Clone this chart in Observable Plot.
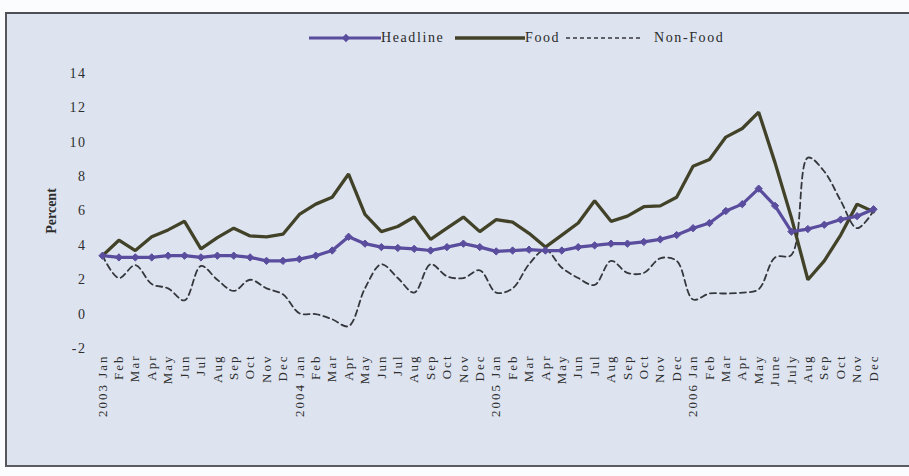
<!DOCTYPE html>
<html>
<head>
<meta charset="utf-8">
<script src="https://cdn.jsdelivr.net/npm/d3@7"></script>
<script src="https://cdn.jsdelivr.net/npm/@observablehq/plot@0.6"></script>
<style>
  html, body { margin: 0; padding: 0; background: #ffffff; }
  #page { position: relative; width: 909px; height: 476px; overflow: hidden; background: #fbfcfd; }
  #box {
    position: absolute; left: 5px; top: 12px; width: 904px; height: 455px;
    background: #dde4f0;
    border-top: 2px solid #4d4f55; border-left: 2px solid #55575c; border-bottom: 2px solid #5a5c62;
    box-sizing: border-box;
  }
  #legend {
    position: absolute; left: 0; top: 28px; width: 909px; height: 20px;
    font-family: "Liberation Serif", "DejaVu Serif", serif; font-size: 14px; color: #2a2a2a;
  }
  #legend .sample { position: absolute; top: 0; }
  #legend .name { position: absolute; top: 1px; letter-spacing: 1.6px; line-height: 18px; }
  #chart { position: absolute; left: 0; top: 50px; }
</style>
</head>
<body>
<div id="page">
  <div id="box"></div>
  <div id="legend"></div>
  <div id="chart"></div>
</div>
<script>
// Monthly year-on-year inflation, January 2003 to December 2006
const monthLabels = [
  "2003 Jan","Feb","Mar","Apr","May","Jun","Jul","Aug","Sep","Oct","Nov","Dec",
  "2004 Jan","Feb","Mar","Apr","May","Jun","Jul","Aug","Sep","Oct","Nov","Dec",
  "2005 Jan","Feb","Mar","Apr","May","Jun","Jul","Aug","Sep","Oct","Nov","Dec",
  "2006 Jan","Feb","Mar","Apr","May","June","July","Aug","Sep","Oct","Nov","Dec"
];

const headline = [
  3.4, 3.3, 3.3, 3.3, 3.4, 3.4, 3.3, 3.4, 3.4, 3.3, 3.1, 3.1,
  3.2, 3.4, 3.7, 4.5, 4.1, 3.9, 3.85, 3.8, 3.7, 3.9, 4.1, 3.9,
  3.65, 3.7, 3.75, 3.7, 3.7, 3.9, 4.0, 4.1, 4.1, 4.2, 4.35, 4.6,
  5.0, 5.3, 6.0, 6.4, 7.3, 6.3, 4.8, 4.95, 5.2, 5.5, 5.7, 6.1
];

const food = [
  3.4, 4.3, 3.7, 4.5, 4.9, 5.4, 3.8, 4.45, 5.0, 4.55, 4.5, 4.65,
  5.8, 6.4, 6.8, 8.15, 5.8, 4.8, 5.1, 5.65, 4.35, 5.0, 5.65, 4.8,
  5.5, 5.35, 4.7, 3.9, 4.6, 5.3, 6.6, 5.4, 5.7, 6.25, 6.3, 6.8,
  8.6, 9.0, 10.3, 10.8, 11.75, 8.8, 5.6, 2.0, 3.1, 4.6, 6.4, 5.95
];

const nonFood = [
  3.4, 2.1, 2.85, 1.75, 1.5, 0.8, 2.8, 2.0, 1.35, 2.0, 1.5, 1.15,
  0.05, 0.0, -0.3, -0.7, 1.5, 2.9, 2.1, 1.25, 2.9, 2.2, 2.1, 2.55,
  1.25, 1.5, 2.9, 3.75, 2.7, 2.1, 1.7, 3.1, 2.4, 2.4, 3.25, 3.1,
  0.85, 1.2, 1.2, 1.25, 1.45, 3.3, 3.45, 9.1, 8.3, 6.6, 5.0, 6.0
];

const yTicks = [-2, 0, 2, 4, 6, 8, 10, 12, 14];

const seriesStyle = {
  headline: { name: "Headline", color: "#5a4d9e" },
  food: { name: "Food", color: "#424228" },
  nonFood: { name: "Non-Food", color: "#36373c" }
};

const rows = (values) => values.map((v, i) => ({ i, v }));

const serif = "'Liberation Serif', 'DejaVu Serif', serif";

const chart = Plot.plot({
  width: 909,
  height: 426,
  marginLeft: 102,
  marginRight: 36,
  marginTop: 23,
  marginBottom: 128,
  style: { background: "transparent", fontFamily: serif, fontSize: "13px", color: "#2e2e2e" },
  x: { type: "linear", domain: [0, monthLabels.length - 1], axis: null },
  y: { domain: [-2, 14], axis: null },
  marks: [
    Plot.axisY({
      ticks: yTicks,
      tickSize: 0,
      tickPadding: 16,
      tickFormat: d => String(d),
      fontSize: 14,
      label: "Percent",
      labelAnchor: "center",
      labelArrow: "none",
      labelOffset: 56
    }),
    Plot.axisX({
      ticks: d3.range(monthLabels.length),
      tickFormat: i => monthLabels[i],
      tickSize: 0,
      tickPadding: 6,
      tickRotate: -90,
      fontSize: 13,
      label: null
    }),
    Plot.line(rows(nonFood), {
      x: "i", y: "v",
      stroke: seriesStyle.nonFood.color,
      strokeWidth: 1.8,
      strokeDasharray: "6,4",
      curve: "catmull-rom"
    }),
    Plot.line(rows(food), {
      x: "i", y: "v",
      stroke: seriesStyle.food.color,
      strokeWidth: 3.3,
      strokeLinejoin: "miter"
    }),
    Plot.line(rows(headline), {
      x: "i", y: "v",
      stroke: seriesStyle.headline.color,
      strokeWidth: 3.2
    }),
    Plot.dot(rows(headline), {
      x: "i", y: "v",
      symbol: "diamond2",
      r: 3.3,
      fill: seriesStyle.headline.color,
      stroke: seriesStyle.headline.color,
      strokeWidth: 1
    })
  ]
});

// Typeset details: spaced-out tick text and a bold axis title
const svg = d3.select(chart);
svg.selectAll("[aria-label='y-axis tick label'] text").attr("letter-spacing", "1.5px");
svg.selectAll("[aria-label='x-axis tick label'] text").attr("letter-spacing", "2px");
svg.selectAll("[aria-label='y-axis label'] text").attr("font-weight", "bold").attr("font-size", 14);

document.getElementById("chart").appendChild(chart);

// Legend row above the plot
const legend = d3.select("#legend");
function legendItem(style, lineFrom, lineTo, textLeft, opts) {
  const w = lineTo - lineFrom;
  const s = legend.append("svg").attr("class", "sample")
    .style("left", lineFrom + "px").attr("width", w).attr("height", 20);
  s.append("line")
    .attr("x1", 0).attr("x2", w).attr("y1", 10).attr("y2", 10)
    .attr("stroke", style.color)
    .attr("stroke-width", opts.width)
    .attr("stroke-dasharray", opts.dash || null);
  if (opts.markerAt != null) {
    s.append("path")
      .attr("d", d3.symbol(d3.symbolDiamond2, 44)())
      .attr("transform", `translate(${opts.markerAt - lineFrom},10)`)
      .attr("fill", style.color);
  }
  legend.append("span").attr("class", "name").style("left", textLeft + "px").text(style.name);
}
legendItem(seriesStyle.headline, 309, 381, 381, { width: 3.2, markerAt: 346 });
legendItem(seriesStyle.food, 455, 525, 525, { width: 3.3 });
legendItem(seriesStyle.nonFood, 566, 640, 654, { width: 1.5, dash: "4,3" });
</script>
</body>
</html>
